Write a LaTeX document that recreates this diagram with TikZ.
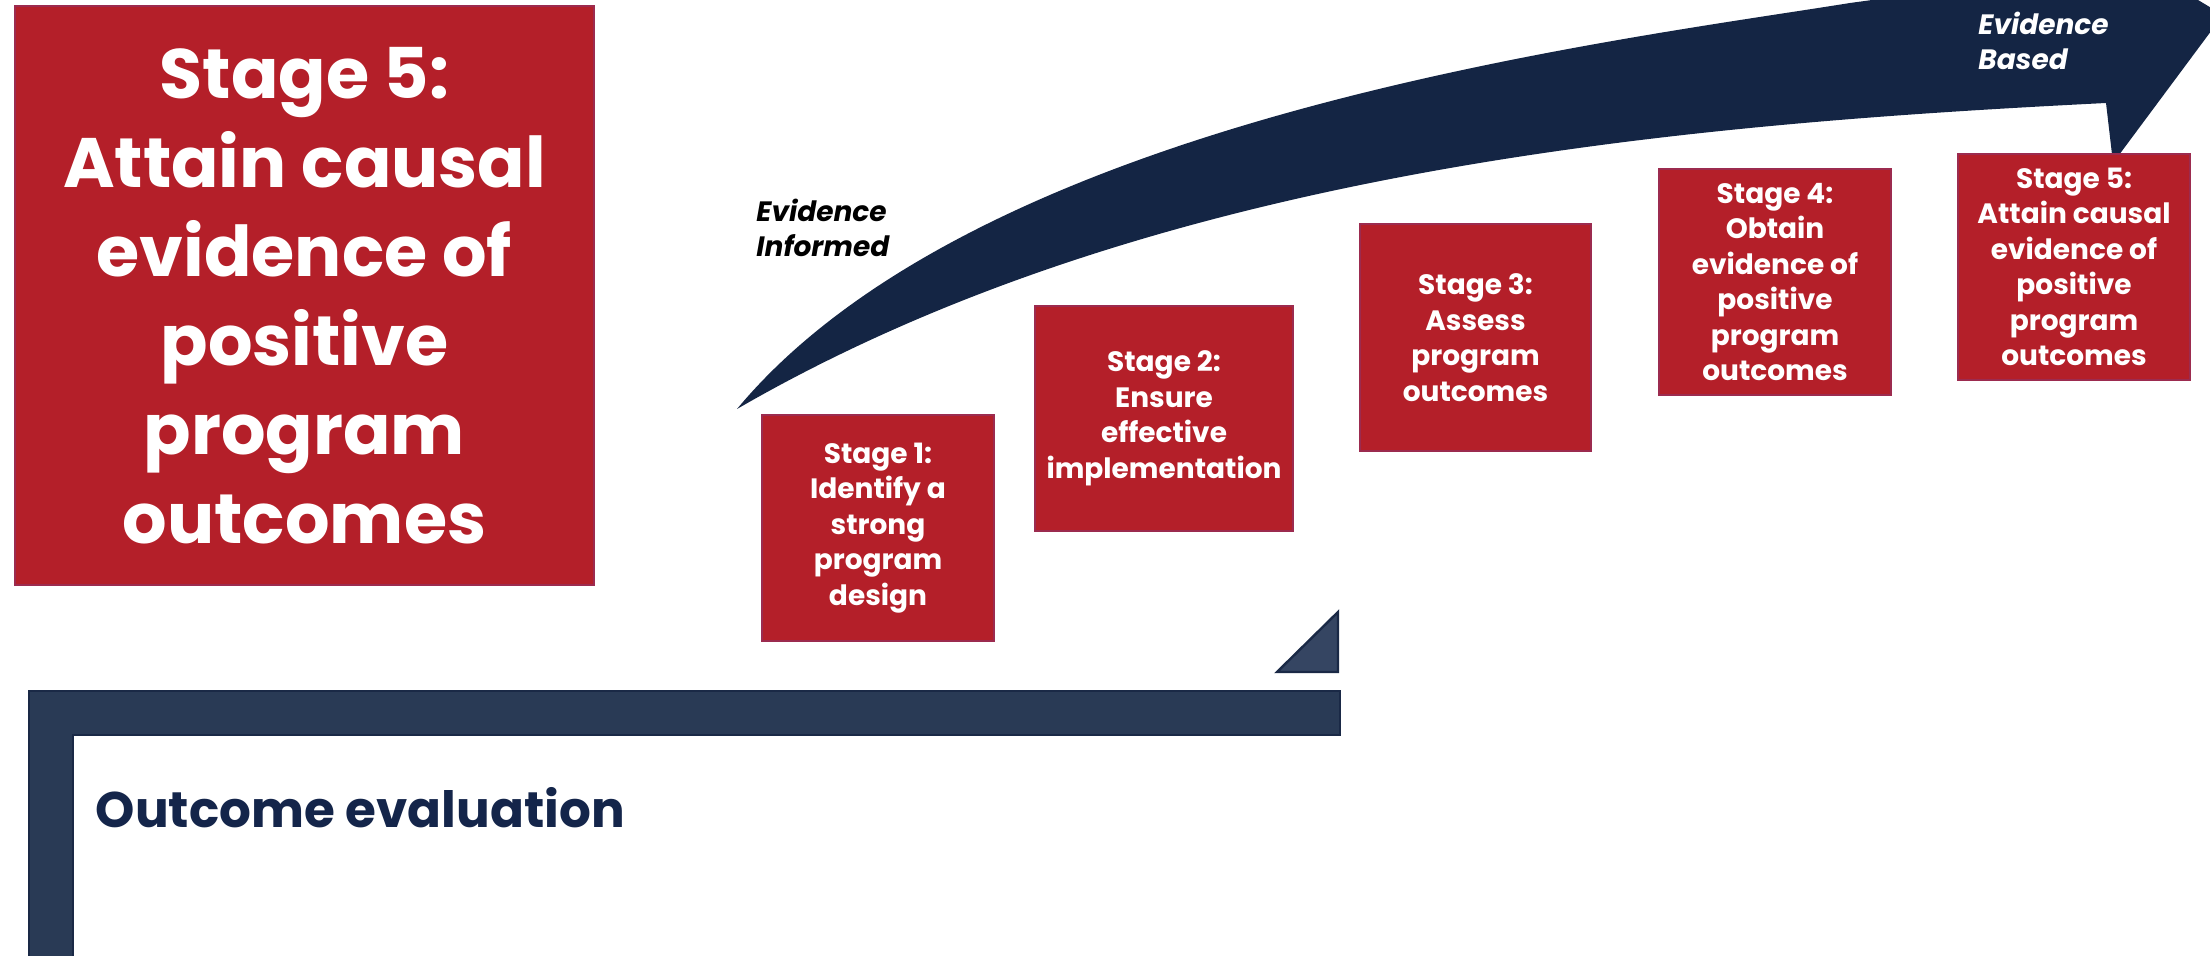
\documentclass[tikz,border=0pt]{standalone}
\usepackage{fontspec}
\setmainfont{Poppins}
\definecolor{stagered}{HTML}{B41F29}
\definecolor{stageedge}{HTML}{9C2B4F}
\definecolor{arrownavy}{HTML}{142544}
\definecolor{barfill}{HTML}{293A55}
\definecolor{baredge}{HTML}{1A2946}
\definecolor{trifill}{HTML}{354562}
\definecolor{titlenavy}{HTML}{14254A}
\begin{document}
\begin{tikzpicture}[x=0.5pt,y=-0.5pt,
  stagebox/.style={fill=stagered, draw=stageedge, line width=0.6pt, text=white,
    font=\bfseries\fontsize{14}{17.75}\selectfont, align=center, inner sep=0pt,
    outer sep=0pt, minimum width=116pt, minimum height=113pt},
  bigbox/.style={stagebox, font=\bfseries\fontsize{35}{44.5}\selectfont,
    minimum width=289.5pt, minimum height=289.5pt},
  evlabel/.style={font=\bfseries\itshape\fontsize{14}{17.5}\selectfont, align=left,
    inner sep=0pt, anchor=base west},
  barstyle/.style={fill=barfill, draw=baredge, line width=1pt}
]
\useasboundingbox (0,0) rectangle (2210,956);
\fill[white] (0,0) rectangle (2210,956);
\begin{scope}
\clip (0,0) rectangle (2210,956);
% curved arrow
\fill[arrownavy] (737,409) .. controls (980,117) and (1607,42) .. (1850,3)
  -- (1990,-16) -- (2100,-30) -- (2123,-45) -- (2223,15) -- (2113,163) -- (2106,103)
  .. controls (1688,124) and (1155,167) .. (737,409) -- cycle;
% half frame
\draw[barstyle] (29,691) -- (1340,691) -- (1340,735) -- (73,735) -- (73,970) -- (29,970) -- cycle;
\draw[fill=trifill, draw=baredge, line width=1.2pt] (1338,612) -- (1338,672) -- (1277,672) -- cycle;
\end{scope}
% big box
\node[bigbox] (big) at (304.5,295.5) {Stage 5:\\Attain causal\\evidence of\\positive\\program\\outcomes};
% stage boxes
\node[stagebox] (s1) at (878,528) {Stage 1:\\Identify a\\strong\\program\\design};
\node[stagebox, minimum width=129pt, minimum height=112.5pt] (s2) at (1164,418.5) {Stage 2:\\Ensure\\effective\\implementation};
\node[stagebox, minimum width=115.5pt, minimum height=113.5pt] (s3) at (1475.5,337.5) {Stage 3:\\Assess\\program\\outcomes};
\node[stagebox] (s4) at (1775,282) {Stage 4:\\Obtain\\evidence of\\positive\\program\\outcomes};
\node[stagebox] (s5) at (2074,267) {Stage 5:\\Attain causal\\evidence of\\positive\\program\\outcomes};
% labels
\node[evlabel, text=black] (evinf) at (756,257) {Evidence\\Informed};
\node[evlabel, text=white] (evbas) at (1978,70) {Evidence\\Based};
\node[font=\bfseries\fontsize{25}{30}\selectfont, text=titlenavy, inner sep=0pt, anchor=base west] (outeval) at (95.5,827) {Outcome evaluation};
\end{tikzpicture}
\end{document}
